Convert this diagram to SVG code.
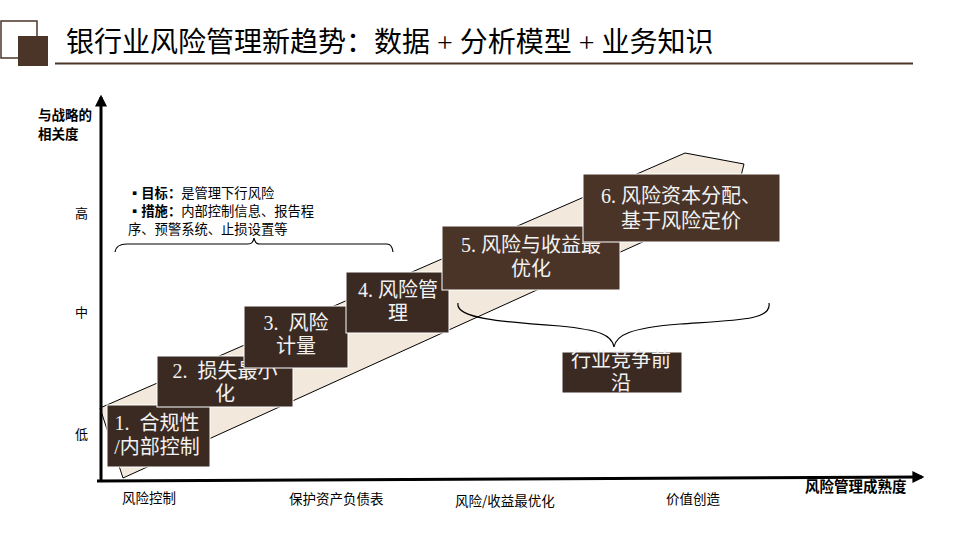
<svg xmlns="http://www.w3.org/2000/svg" width="960" height="540" viewBox="0 0 960 540">
<defs>
<style>
.t{font-family:"Liberation Serif","Noto Sans CJK SC",serif;}
.s{font-family:"Noto Sans CJK SC","Liberation Sans",sans-serif;fill:#000;}
.bx{fill:#3B2A22;stroke:#ffffff;stroke-width:1;}
.bx2{fill:#4A3428;stroke:#ffffff;stroke-width:1;}
.bt{font-family:"Liberation Serif","Noto Sans CJK SC",serif;fill:#F2F2F2;font-size:20px;text-anchor:middle;white-space:pre;}
.ax{stroke:#000;stroke-width:3;fill:none;}
.br{stroke:#000;stroke-width:1.2;fill:none;}
</style>
<marker id="arr" viewBox="0 0 10 10" refX="8" refY="5" markerWidth="4" markerHeight="4" orient="auto">
<path d="M0,0 L10,5 L0,10 z" fill="#000"/>
</marker>
</defs>
<rect width="960" height="540" fill="#fff"/>

<g id="title">
<rect x="1" y="21" width="36" height="37" fill="none" stroke="#4B3428" stroke-width="1.5"/>
<rect x="18" y="36" width="30" height="30" fill="#4B3428"/>
<text class="t" x="66" y="52" font-size="28" fill="#000">银行业风险管理新趋势：数据 + 分析模型 + 业务知识</text>
<line x1="55" y1="63.5" x2="913" y2="63.5" stroke="#4B3428" stroke-width="2"/>
</g>

<g id="band">
<polygon points="100,408 685,153 744,164 735,200 123,478" fill="#F3E8DC" stroke="#000" stroke-width="1"/>
</g>

<g id="connectors">
<line class="ax" x1="101" y1="481" x2="101" y2="97" marker-end="url(#arr)"/>
<line class="ax" x1="97" y1="481" x2="922" y2="477" marker-end="url(#arr)"/>
<path class="br" d="M115,252 Q116,244 127,244 L248,244 Q253,244 254,238 Q255,244 260,244 L387,244 Q392,244 393,252"/>
<path class="br" d="M458,303 C455,318 500,322 560,326 C600,330 612,335 614,347 C616,335 630,328 680,324 C740,320 772,320 769,303"/>
</g>

<g id="axis-labels">
<text class="s" x="38" y="120" font-size="13.5" font-weight="bold">与战略的</text>
<text class="s" x="38" y="139" font-size="13.5" font-weight="bold">相关度</text>
<text class="s" x="75" y="218" font-size="13">高</text>
<text class="s" x="75" y="317" font-size="13">中</text>
<text class="s" x="75" y="439" font-size="13">低</text>
<text class="s" x="805" y="492" font-size="14.5" font-weight="bold">风险管理成熟度</text>
<text class="s" x="122" y="503" font-size="13.5">风险控制</text>
<text class="s" x="289" y="504" font-size="13.5">保护资产负债表</text>
<text class="s" x="455" y="506" font-size="13.5">风险/收益最优化</text>
<text class="s" x="666" y="504" font-size="13.5">价值创造</text>
</g>

<g id="note">
<text class="s" x="128" y="198" font-size="13.3"><tspan font-weight="bold">▪目标：</tspan>是管理下行风险</text>
<text class="s" x="128" y="216" font-size="13.3"><tspan font-weight="bold">▪措施：</tspan>内部控制信息、报告程</text>
<text class="s" x="128" y="234" font-size="13.3">序、预警系统、止损设置等</text>
</g>

<g id="step1">
<rect class="bx" x="107" y="405" width="103" height="62"/>
<text class="bt" x="157" y="430" font-size="19" xml:space="preserve">1.  合规性</text>
<text class="bt" x="157" y="454" font-size="19">/内部控制</text>
</g>

<g id="step2">
<rect class="bx" x="157" y="356" width="136" height="51"/>
<text class="bt" x="225" y="378" xml:space="preserve">2.  损失最小</text>
<text class="bt" x="225" y="401">化</text>
</g>

<g id="step3">
<rect class="bx" x="244" y="306" width="104" height="62"/>
<text class="bt" x="296" y="330" xml:space="preserve">3.  风险</text>
<text class="bt" x="296" y="353">计量</text>
</g>

<g id="step4">
<rect class="bx" x="346" y="272" width="103" height="61"/>
<text class="bt" x="398" y="297">4. 风险管</text>
<text class="bt" x="398" y="320">理</text>
</g>

<g id="step5">
<rect class="bx2" x="442" y="226" width="178" height="64"/>
<text class="bt" x="531" y="252">5. 风险与收益最</text>
<text class="bt" x="531" y="276">优化</text>
</g>

<g id="step6">
<rect class="bx2" x="583" y="174" width="197" height="68"/>
<text class="bt" x="681" y="203">6. 风险资本分配、</text>
<text class="bt" x="681" y="228">基于风险定价</text>
</g>

<g id="frontier">
<rect class="bx" x="562" y="352" width="120" height="41" stroke="none"/>
<text class="bt" x="621" y="367">行业竞争前</text>
<text class="bt" x="621" y="390">沿</text>
</g>
</svg>
